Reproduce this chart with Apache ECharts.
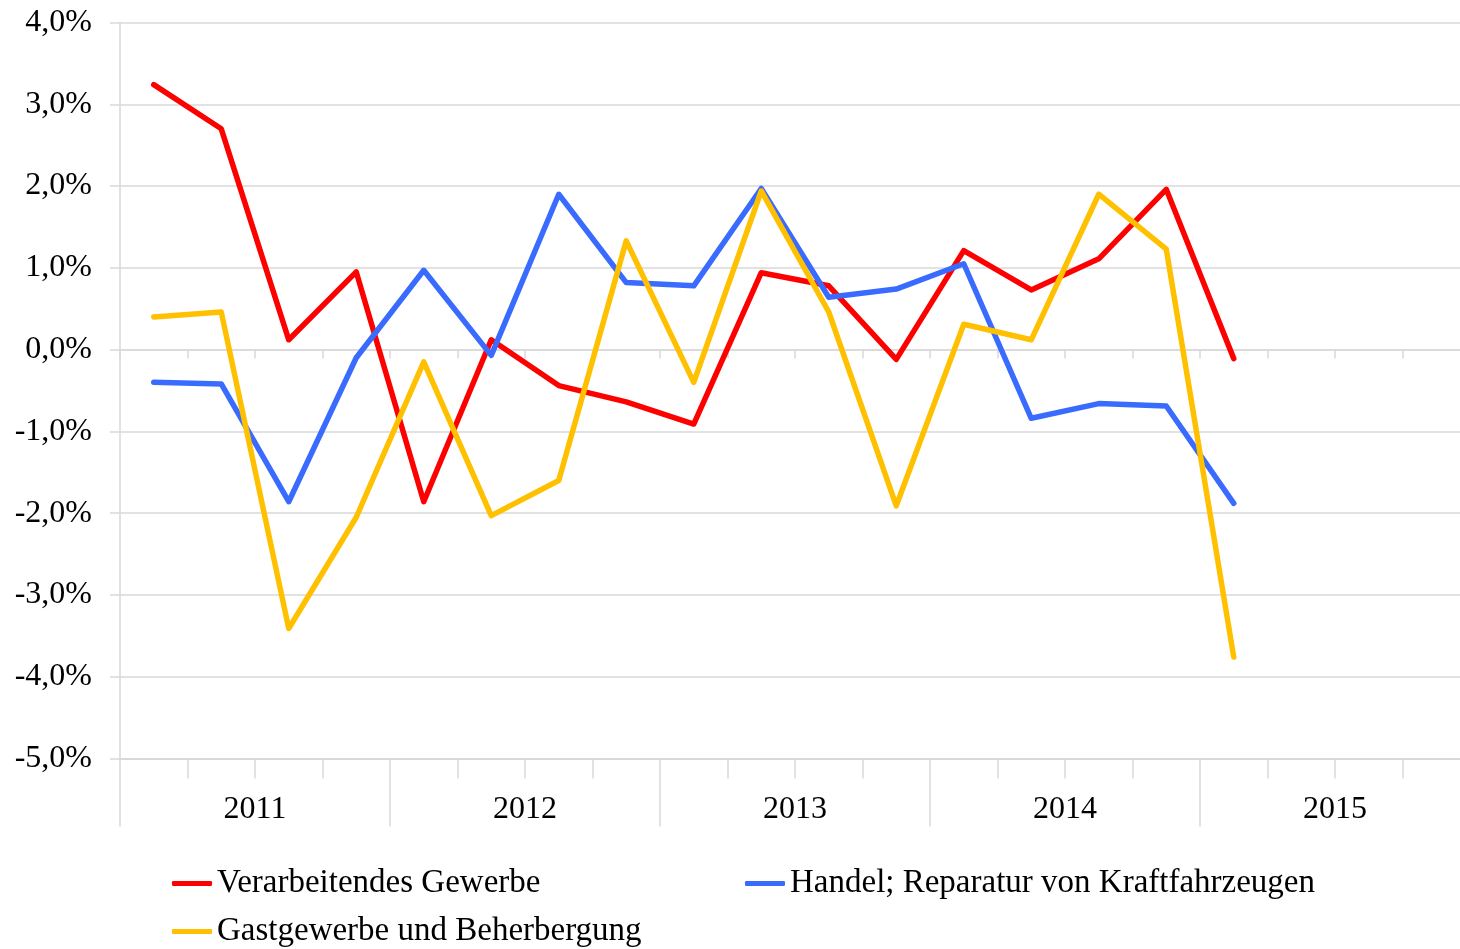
<!DOCTYPE html>
<html>
<head>
<meta charset="utf-8">
<script src="https://cdn.jsdelivr.net/npm/echarts@6/dist/echarts.min.js"></script>
<style>
    html, body { margin: 0; padding: 0; background: #fff; overflow: hidden; }
    /* etwas breiter als das Fenster: der rechte Rand ist im Original abgeschnitten */
    #chart { width: 1470px; height: 949px; }
</style>
</head>
<body>
<div id="chart"></div>
<script type="text/javascript">
    // Quartale 2011 Q1 .. 2015 Q4
    var quarters = ['2011 Q1', '2011 Q2', '2011 Q3', '2011 Q4',
                    '2012 Q1', '2012 Q2', '2012 Q3', '2012 Q4',
                    '2013 Q1', '2013 Q2', '2013 Q3', '2013 Q4',
                    '2014 Q1', '2014 Q2', '2014 Q3', '2014 Q4',
                    '2015 Q1', '2015 Q2', '2015 Q3', '2015 Q4'];
    var years = ['2011', '2012', '2013', '2014', '2015'];

    var names = ['Verarbeitendes Gewerbe', 'Handel; Reparatur von Kraftfahrzeugen', 'Gastgewerbe und Beherbergung'];

    // Veränderung in %
    var verarbeitend = [3.24, 2.70, 0.12, 0.95, -1.86, 0.12, -0.44, -0.64, -0.91, 0.94, 0.78, -0.12, 1.21, 0.73, 1.11, 1.96, -0.11];
    var handel = [-0.40, -0.42, -1.86, -0.10, 0.97, -0.07, 1.90, 0.82, 0.78, 1.97, 0.64, 0.74, 1.05, -0.84, -0.66, -0.69, -1.88];
    var gastgewerbe = [0.40, 0.46, -3.41, -2.05, -0.15, -2.03, -1.60, 1.33, -0.40, 1.94, 0.46, -1.91, 0.31, 0.12, 1.90, 1.23, -3.76];

    var font = "'Liberation Serif', 'Times New Roman', serif";
    var gridColor = '#d9d9d9';

    var chart = echarts.init(document.getElementById('chart'));

    function legendAt(name, left, top) {
        return {
            data: [name],
            left: left,
            top: top,
            padding: 0,
            icon: 'roundRect',
            itemWidth: 40,
            itemHeight: 5,
            selectedMode: false,
            textStyle: { fontFamily: font, fontSize: 33, color: '#000' }
        };
    }

    var option = {
        animation: false,
        backgroundColor: '#fff',
        color: ['#ff0000', '#3a6bff', '#ffc000'],
        grid: { left: 120, top: 22.5, right: 0, bottom: 190.5 },
        legend: [
            legendAt(names[0], 172, 867),
            legendAt(names[1], 745, 867),
            legendAt(names[2], 172, 915)
        ],
        xAxis: [
            {
                // Achse auf der Nulllinie (nur Striche)
                type: 'category',
                data: quarters,
                position: 'bottom',
                axisLine: { onZero: true, lineStyle: { color: gridColor, width: 1.5 } },
                axisTick: { show: true, interval: 0, length: 9, lineStyle: { color: gridColor, width: 1.5 } },
                axisLabel: { show: false },
                splitLine: { show: false }
            },
            {
                type: 'category',
                data: quarters,
                position: 'bottom',
                axisLine: { onZero: false, lineStyle: { color: gridColor, width: 1.5 } },
                axisTick: { show: true, interval: 0, length: 20, lineStyle: { color: gridColor, width: 1.5 } },
                axisLabel: { show: false },
                splitLine: { show: false }
            },
            {
                type: 'category',
                data: years,
                position: 'bottom',
                axisLine: { onZero: false, lineStyle: { color: gridColor, width: 1.5 } },
                axisTick: { show: true, interval: 0, length: 68, lineStyle: { color: gridColor, width: 1.5 } },
                axisLabel: { fontFamily: font, fontSize: 32, color: '#000', margin: 35 },
                splitLine: { show: false }
            }
        ],
        yAxis: {
            type: 'value',
            min: -5,
            max: 4,
            interval: 1,
            axisLine: { show: true, lineStyle: { color: gridColor, width: 1.5 } },
            axisTick: { show: true, length: 10, lineStyle: { color: gridColor, width: 1.5 } },
            axisLabel: {
                fontFamily: font, fontSize: 32, color: '#000', margin: 28,
                formatter: function (v) { return v.toFixed(1).replace('.', ',') + '%'; }
            },
            splitLine: { lineStyle: { color: gridColor, width: 1.5 } }
        },
        series: [
            { name: names[0], type: 'line', xAxisIndex: 0, data: verarbeitend, symbol: 'none',
              lineStyle: { width: 5.5, cap: 'round', join: 'round' } },
            { name: names[1], type: 'line', xAxisIndex: 0, data: handel, symbol: 'none',
              lineStyle: { width: 5.5, cap: 'round', join: 'round' } },
            { name: names[2], type: 'line', xAxisIndex: 0, data: gastgewerbe, symbol: 'none',
              lineStyle: { width: 5.5, cap: 'round', join: 'round' } }
        ]
    };
    chart.setOption(option);
</script>
</body>
</html>
